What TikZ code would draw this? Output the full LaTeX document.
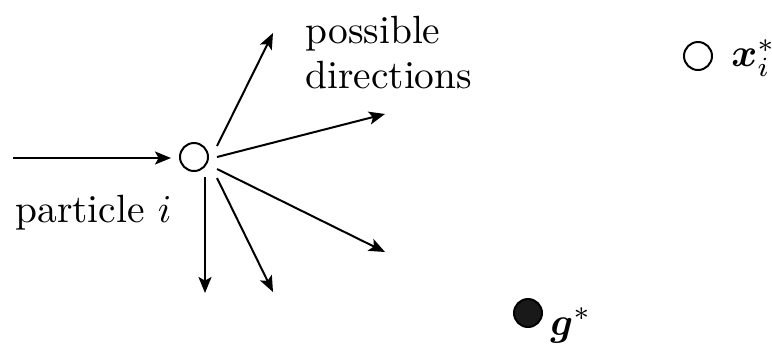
\documentclass[tikz,border=0pt]{standalone}
\usepackage{amsmath}
\usetikzlibrary{arrows.meta}
\newcommand{\bigtxt}[1]{\scalebox{1.97}{#1}}
\begin{document}
\begin{tikzpicture}[x=0.5pt,y=-0.5pt,
  every node/.style={font=\fontsize{10}{12}\selectfont, inner sep=0pt},
  vec/.style={line width=1pt,-{Stealth[length=8pt,width=6.5pt,inset=1.8pt]}},
  pcircle/.style={circle,draw,line width=1pt,minimum size=14pt},
  lbl/.style={anchor=base west}]
\useasboundingbox (0,0) rectangle (772,345);
% particle
\node[pcircle] (p) at (194,157) {};
\coordinate (in) at (13,158);
\draw[vec,shorten >=4pt] (in) -- (p.west |- in);
% possible directions
\coordinate (s1) at (217,146); \coordinate (e1) at (273,33);
\coordinate (s2) at (217,157); \coordinate (e2) at (385,114);
\coordinate (s3) at (217,169); \coordinate (e3) at (385,252);
\coordinate (s4) at (217,178); \coordinate (e4) at (273,292);
\coordinate (s5) at (205,177); \coordinate (e5) at (205,293);
\foreach \i in {1,...,5} {\draw[vec] (s\i) -- (e\i);}
% labels
\node[lbl] (plabel) at (15,222) {\bigtxt{particle $i$}};
\node[lbl] (poss) at (305,43) {\bigtxt{possible}};
\node[lbl] (dirs) at (305,88) {\bigtxt{directions}};
% personal best
\node[pcircle] (xbest) at (698,56) {};
\node[anchor=west] (xlabel) at (731,58) {\bigtxt{$\boldsymbol{x}_i^*$}};
% global best
\node[pcircle,fill=black!90] (gbest) at (528,313) {};
\node[lbl] (glabel) at (550,335) {\bigtxt{$\boldsymbol{g}^*$}};
\end{tikzpicture}
\end{document}
